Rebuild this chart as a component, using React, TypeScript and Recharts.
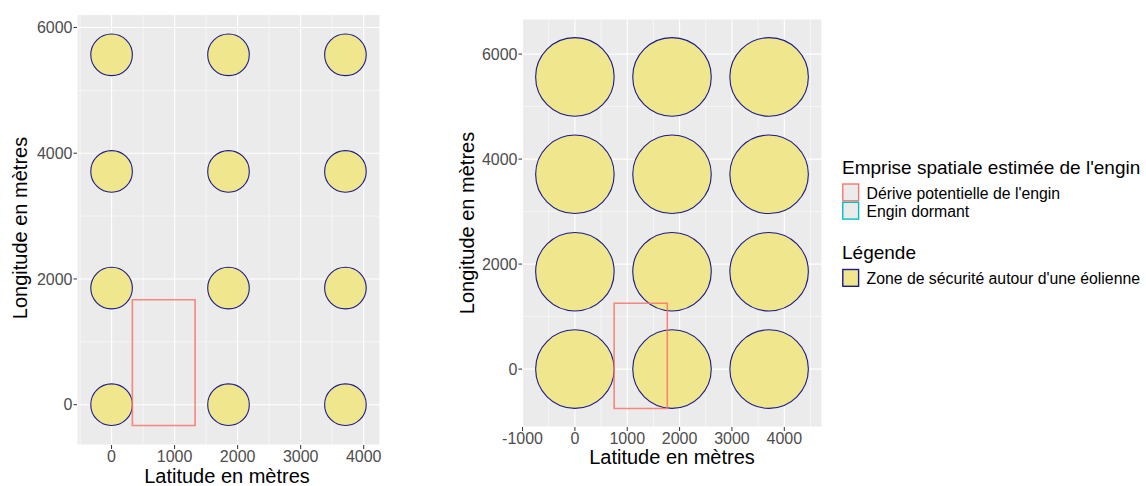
import React from "react";
import {
  ScatterChart,
  Scatter,
  XAxis,
  YAxis,
  CartesianGrid,
  ReferenceArea,
  ReferenceLine,
} from "recharts";

// turbine grid (metres)
const turbineLat = [0, 1855, 3710];
const turbineLon = [0, 1855, 3710, 5565];

// safety zone radius for each panel
const safetyRadiusLeft = 330;
const safetyRadiusRight = 750;

// drift box of the gear: [lat min, lat max, lon min, lon max]
const driftLeft = [330, 1325, -330, 1670];
const driftRight = [750, 1765, -750, 1255];

const leftXTicks = [0, 1000, 2000, 3000, 4000];
const rightXTicks = [-1000, 0, 1000, 2000, 3000, 4000];
const yTicks = [0, 2000, 4000, 6000];
const leftXMinor = [-500, 500, 1500, 2500, 3500];
const rightXMinor = [-500, 500, 1500, 2500, 3500, 4500];
const yMinor = [1000, 3000, 5000];

const xTitle = "Latitude en mètres";
const yTitle = "Longitude en mètres";
const legendTitle1 = "Emprise spatiale estimée de l'engin";
const legendItems1 = ["Dérive potentielle de l'engin", "Engin dormant"];
const legendTitle2 = "Légende";
const legendItem2 = "Zone de sécurité autour d'une éolienne";

const turbines = turbineLon.flatMap((lon) => turbineLat.map((lat) => ({ lat, lon })));

const FONT = "'Liberation Sans', Arial, Helvetica, sans-serif";
const ZONE_FILL = "#EFE68E";
const ZONE_STROKE = "#1A1A8A";
const DRIFT = "#F8766D";
const DORMANT = "#00BFC4";

// ggplot style 5% expansion around data range
function expand(min: number, max: number): [number, number] {
  const pad = (max - min) * 0.05;
  return [min - pad, max + pad];
}

interface PanelProps {
  left: number;
  width: number;
  height: number;
  margin: { top: number; right: number; bottom: number; left: number };
  yAxisWidth: number;
  xAxisHeight: number;
  radius: number;
  drift: number[];
  xTicks: number[];
  xMinor: number[];
}

function Panel({ left, width, height, margin, yAxisWidth, xAxisHeight, radius, drift, xTicks, xMinor }: PanelProps) {
  const xDomain = expand(Math.min(-radius, drift[0]), Math.max(turbineLat[turbineLat.length - 1] + radius, drift[1]));
  const yDomain = expand(Math.min(-radius, drift[2]), Math.max(turbineLon[turbineLon.length - 1] + radius, drift[3]));
  const plotW = width - margin.left - margin.right - yAxisWidth;
  const pxPerUnit = plotW / (xDomain[1] - xDomain[0]);
  const r = radius * pxPerUnit;

  const tickStyle = { fill: "#4D4D4D", fontSize: 16, fontFamily: FONT };

  return (
    <div style={{ position: "absolute", left, top: 0 }}>
      <ScatterChart width={width} height={height} margin={margin}>
        <CartesianGrid fill="#EBEBEB" stroke="#FFFFFF" strokeWidth={1.1} strokeOpacity={1} />
        {xMinor.map((v) => (
          <ReferenceLine key={"x" + v} x={v} stroke="#FFFFFF" strokeWidth={0.55} zIndex={-90} />
        ))}
        {yMinor.map((v) => (
          <ReferenceLine key={"y" + v} y={v} stroke="#FFFFFF" strokeWidth={0.55} zIndex={-90} />
        ))}
        <XAxis
          type="number"
          dataKey="lat"
          domain={xDomain}
          allowDataOverflow
          ticks={xTicks}
          height={xAxisHeight}
          axisLine={false}
          tickLine={{ stroke: "#333333" }}
          tickSize={4}
          tickMargin={2}
          tick={tickStyle}
          interval={0}
        />
        <YAxis
          type="number"
          dataKey="lon"
          domain={yDomain}
          allowDataOverflow
          ticks={yTicks}
          width={yAxisWidth}
          axisLine={false}
          tickLine={{ stroke: "#333333" }}
          tickSize={3.5}
          tickMargin={1}
          tick={tickStyle}
          interval={0}
        />
        <Scatter
          data={turbines}
          isAnimationActive={false}
          shape={(p: any) => (
            <circle cx={p.cx} cy={p.cy} r={r} fill={ZONE_FILL} stroke={ZONE_STROKE} strokeWidth={1.1} />
          )}
        />
        <ReferenceArea
          x1={drift[0]}
          x2={drift[1]}
          y1={drift[2]}
          y2={drift[3]}
          fill="none"
          fillOpacity={0}
          stroke={DRIFT}
          strokeOpacity={0.85}
          strokeWidth={1.6}
          ifOverflow="visible"
          zIndex={700}
        />
      </ScatterChart>
    </div>
  );
}

export default function App() {
  return (
    <div style={{ position: "absolute", left: 0, top: 0, width: 1146, height: 486, background: "#fff", fontFamily: FONT }}>
      <Panel
        left={0}
        width={400}
        height={486}
        margin={{ top: 14.5, right: 20, bottom: 0, left: 0 }}
        yAxisWidth={77}
        xAxisHeight={41}
        radius={safetyRadiusLeft}
        drift={driftLeft}
        xTicks={leftXTicks}
        xMinor={leftXMinor}
      />
      <Panel
        left={440}
        width={400}
        height={486}
        margin={{ top: 19, right: 18, bottom: 19, left: 0 }}
        yAxisWidth={82}
        xAxisHeight={40}
        radius={safetyRadiusRight}
        drift={driftRight}
        xTicks={rightXTicks}
        xMinor={rightXMinor}
      />
      <svg width={1146} height={486} style={{ position: "absolute", left: 0, top: 0, pointerEvents: "none" }}>
        <g fontFamily={FONT} fill="#000">
          <text x={227} y={482.5} fontSize={20} textAnchor="middle">{xTitle}</text>
          <text x={26.5} y={228} fontSize={20} textAnchor="middle" transform="rotate(-90 26.5 228)">{yTitle}</text>
          <text x={672} y={464} fontSize={20} textAnchor="middle">{xTitle}</text>
          <text x={474} y={223} fontSize={20} textAnchor="middle" transform="rotate(-90 474 223)">{yTitle}</text>

          <text x={842} y={173.5} fontSize={19}>{legendTitle1}</text>
          {legendItems1.map((label, i) => (
            <g key={label}>
              <rect x={842.8} y={184 + i * 18.3} width={15.8} height={16.8} fill="#EBEBEB" stroke={i === 0 ? DRIFT : DORMANT} strokeWidth={1.4} />
              <text x={866.5} y={198.5 + i * 18.8} fontSize={15.8}>{label}</text>
            </g>
          ))}
          <text x={842} y={259} fontSize={19}>{legendTitle2}</text>
          <rect x={842.8} y={269.5} width={15.8} height={16.8} fill={ZONE_FILL} stroke={ZONE_STROKE} strokeWidth={1.4} />
          <text x={866.5} y={283.5} fontSize={15.8}>{legendItem2}</text>
        </g>
      </svg>
    </div>
  );
}
